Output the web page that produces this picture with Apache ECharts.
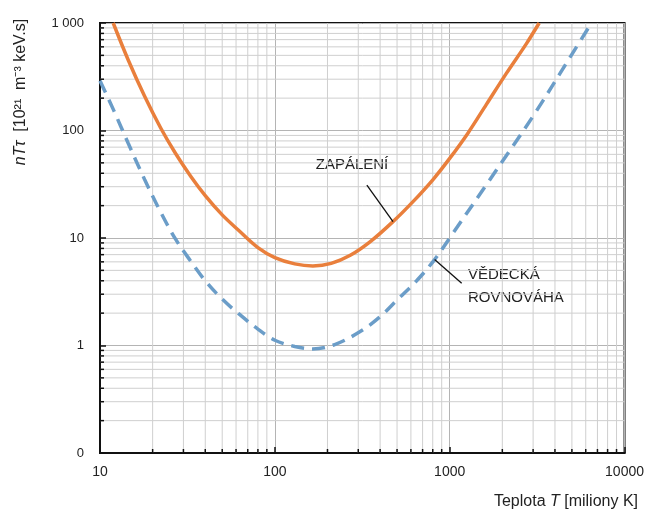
<!DOCTYPE html>
<html>
<head>
<meta charset="utf-8">
<script src="https://cdn.jsdelivr.net/npm/echarts@6/dist/echarts.min.js"></script>
<style>
  html, body { margin: 0; padding: 0; background: #fff; }
  #chart { width: 647px; height: 516px; }
</style>
</head>
<body>
<div id="chart"></div>
<script>
// Ignition curve (ZAPÁLENÍ): temperature [million K] and nTτ [10^21 m^-3 keV.s]
const ignitionT = [11.9, 14.5, 18, 22.2, 27, 33, 40, 50, 62, 80, 100, 130, 165, 210, 270, 350, 474, 617, 803, 1000, 1274, 1622, 2109, 2742, 3250];
const ignitionV = [1000, 453, 208, 106, 61.4, 37.6, 24.8, 16.4, 11.8, 8.14, 6.58, 5.75, 5.5, 5.8, 6.9, 9.2, 14.2, 21.8, 35, 55, 95, 175, 340, 640, 1000];

// Scientific breakeven curve (VĚDECKÁ ROVNOVÁHA)
const breakevenT = [10, 12, 14.5, 18, 22.2, 27, 33, 40, 50, 62, 80, 100, 130, 165, 220, 306, 398, 500, 647, 820, 1000, 1693, 2980, 5050, 6470];
const breakevenV = [290, 153, 76, 35, 17.5, 9.8, 6.1, 4.0, 2.7, 1.98, 1.42, 1.12, 0.98, 0.93, 1.02, 1.34, 1.84, 2.65, 4.0, 6.3, 10, 34.7, 134, 525, 1000];

// Axis ranges and minor grid positions (log decades 2..9)
const xRange = [10, 10000];
const yRange = [0.1, 1000];
const xMinor = [20, 30, 40, 50, 60, 70, 80, 90, 200, 300, 400, 500, 600, 700, 800, 900, 2000, 3000, 4000, 5000, 6000, 7000, 8000, 9000];
const yMinor = [0.2, 0.3, 0.4, 0.5, 0.6, 0.7, 0.8, 0.9, 2, 3, 4, 5, 6, 7, 8, 9, 20, 30, 40, 50, 60, 70, 80, 90, 200, 300, 400, 500, 600, 700, 800, 900];

// Leader lines from the labels to the curves
const ignitionLeader = [[336, 31], [474, 14.2]];
const breakevenLeader = [[820, 6.3], [1171, 3.8]];

const zip = (xs, ys) => xs.map((x, i) => [x, ys[i]]);
const FONT = '"Liberation Sans", Arial, sans-serif';

const chart = echarts.init(document.getElementById('chart'), null, { renderer: 'canvas' });

const minorItems = xMinor.map(v => [v, 1, 0]).concat(yMinor.map(v => [100, v, 1]));

chart.setOption({
  animation: false,
  backgroundColor: '#fff',
  grid: {
    left: 100, top: 23, right: 22, bottom: 63,
    show: true, borderColor: '#111', borderWidth: 2, backgroundColor: 'transparent'
  },
  xAxis: {
    type: 'log', logBase: 10, min: xRange[0], max: xRange[1],
    axisLine: { show: true, lineStyle: { color: '#111', width: 2 } },
    axisTick: { show: true, inside: true, length: 6, lineStyle: { color: '#111', width: 1.5 } },
    axisLabel: {
      color: '#222', fontSize: 14, fontFamily: FONT, margin: 12,
      formatter: v => String(Math.round(v))
    },
    splitLine: { show: true, lineStyle: { color: '#b4b4b4', width: 1 } }
  },
  yAxis: {
    type: 'log', logBase: 10, min: yRange[0], max: yRange[1],
    axisLine: { show: true, lineStyle: { color: '#111', width: 2 } },
    axisTick: { show: true, inside: true, length: 6, lineStyle: { color: '#111', width: 1.5 } },
    axisLabel: {
      color: '#222', fontSize: 13, fontFamily: FONT, margin: 16,
      formatter: v => (v < 0.5 ? '0' : v >= 999 ? '1 000' : String(Math.round(v)))
    },
    splitLine: { show: true, lineStyle: { color: '#b4b4b4', width: 1 } }
  },
  series: [
    {
      // minor grid lines and minor ticks at 2..9 of every decade
      type: 'custom',
      silent: true,
      z: 1,
      clip: true,
      encode: { x: 0, y: 1 },
      data: minorItems,
      renderItem: (params, api) => {
        const isX = api.value(2) === 0;
        let a, b, t2;
        if (isX) {
          a = api.coord([api.value(0), yRange[0]]);
          b = api.coord([api.value(0), yRange[1]]);
          t2 = [a[0], a[1] - 4];
        } else {
          a = api.coord([xRange[0], api.value(1)]);
          b = api.coord([xRange[1], api.value(1)]);
          t2 = [a[0] + 4, a[1]];
        }
        return {
          type: 'group',
          children: [
            { type: 'line', shape: { x1: a[0], y1: a[1], x2: b[0], y2: b[1] },
              style: { stroke: '#cfcfcf', lineWidth: 1 } },
            { type: 'line', shape: { x1: a[0], y1: a[1], x2: t2[0], y2: t2[1] },
              style: { stroke: '#111', lineWidth: 1.5 } }
          ]
        };
      }
    },
    {
      name: 'VĚDECKÁ ROVNOVÁHA',
      type: 'line',
      data: zip(breakevenT, breakevenV),
      smooth: 0.35,
      showSymbol: false,
      symbol: 'none',
      z: 3,
      lineStyle: { color: '#6b9dc8', width: 3.5, type: [13, 8] },
      markLine: {
        silent: true, symbol: 'none', label: { show: false },
        lineStyle: { color: '#111', width: 1.3, type: 'solid' },
        data: [[{ coord: breakevenLeader[0] }, { coord: breakevenLeader[1] }]]
      }
    },
    {
      name: 'ZAPÁLENÍ',
      type: 'line',
      data: zip(ignitionT, ignitionV),
      smooth: 0.35,
      showSymbol: false,
      symbol: 'none',
      z: 4,
      lineStyle: { color: '#e97f3c', width: 3.5 },
      markLine: {
        silent: true, symbol: 'none', label: { show: false },
        lineStyle: { color: '#111', width: 1.3, type: 'solid' },
        data: [[{ coord: ignitionLeader[0] }, { coord: ignitionLeader[1] }]]
      }
    }
  ],
  graphic: [
    {
      type: 'text', x: 21, y: 92, rotation: Math.PI / 2,
      style: {
        text: '{i|nTτ}{a|  [10²¹  m⁻³ keV.s]}',
        align: 'center', verticalAlign: 'middle',
        rich: {
          i: { fontSize: 16, fontStyle: 'italic', fontFamily: FONT, fill: '#222' },
          a: { fontSize: 16, fontFamily: FONT, fill: '#222' }
        }
      }
    },
    {
      type: 'text', x: 638, y: 502,
      style: {
        text: '{a|Teplota }{i|T}{a| [miliony K]}',
        align: 'right', verticalAlign: 'middle',
        rich: {
          i: { fontSize: 16, fontStyle: 'italic', fontFamily: FONT, fill: '#222' },
          a: { fontSize: 16, fontFamily: FONT, fill: '#222' }
        }
      }
    },
    {
      type: 'text', x: 352, y: 165,
      style: { text: 'ZAPÁLENÍ', align: 'center', verticalAlign: 'middle',
        font: '15px ' + FONT, fill: '#222' }
    },
    {
      type: 'text', x: 468, y: 286,
      style: { text: 'VĚDECKÁ\nROVNOVÁHA', align: 'left', verticalAlign: 'middle',
        font: '15px ' + FONT, lineHeight: 23, fill: '#222' }
    }
  ]
});
</script>
</body>
</html>
